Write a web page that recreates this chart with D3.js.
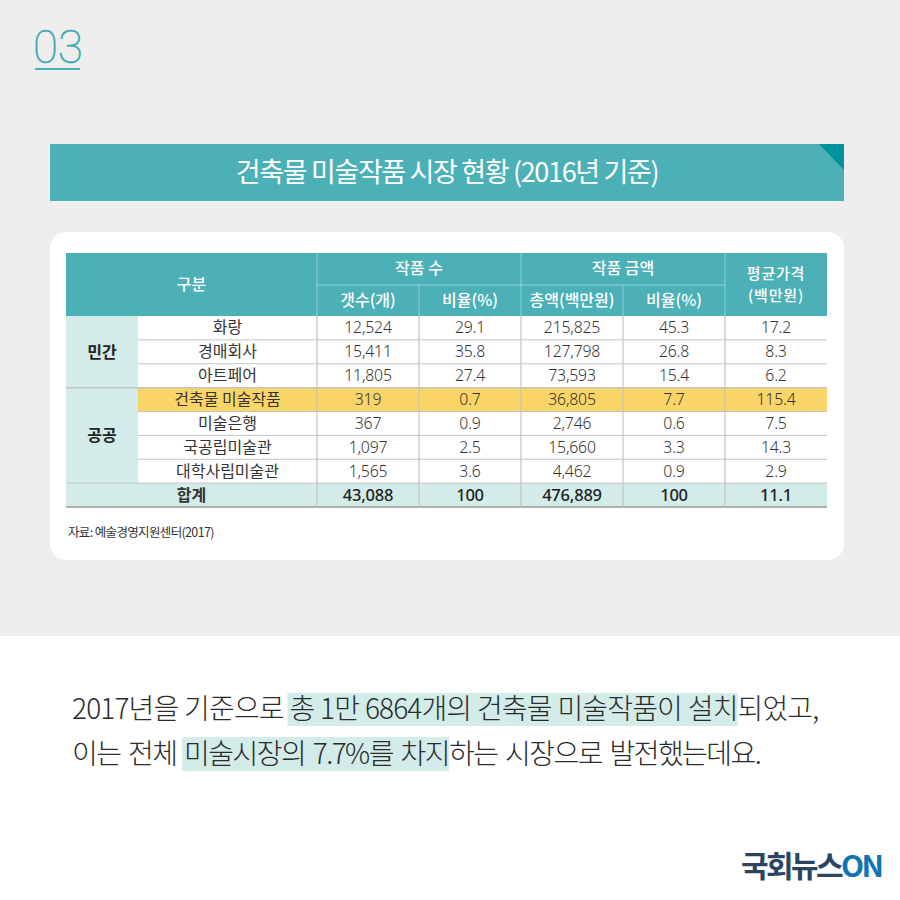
<!DOCTYPE html>
<html>
<head>
<meta charset="utf-8">
<script src="https://cdn.jsdelivr.net/npm/d3@7"></script>
<style>
html,body{margin:0;padding:0;background:#fff}
svg{display:block}
text{font-family:"Noto Sans CJK KR","Noto Sans",sans-serif}
</style>
</head>
<body>
<svg id="chart" width="900" height="900"></svg>
<script>
const title = "건축물 미술작품 시장 현황 (2016년 기준)";
const source = "자료: 예술경영지원센터(2017)";
const rowLabels = ["화랑","경매회사","아트페어","건축물 미술작품","미술은행","국공립미술관","대학사립미술관","합계"];
const columns = ["count","countShare","amount","amountShare","avgPrice"];
const subHeads = ["갯수(개)","비율(%)","총액(백만원)","비율(%)"];
const count = ["12,524","15,411","11,805","319","367","1,097","1,565","43,088"];
const countShare = ["29.1","35.8","27.4","0.7","0.9","2.5","3.6","100"];
const amount = ["215,825","127,798","73,593","36,805","2,746","15,660","4,462","476,889"];
const amountShare = ["45.3","26.8","15.4","7.7","0.6","3.3","0.9","100"];
const avgPrice = ["17.2","8.3","6.2","115.4","7.5","14.3","2.9","11.1"];
const series = [count,countShare,amount,amountShare,avgPrice];
const line1 = ["2017년을 기준으로 ","총 1만 6864개의 건축물 미술작품이 설치","되었고,"];
const line2 = ["이는 전체 ","미술시장의 7.7%를 차지","하는 시장으로 발전했는데요."];

const teal = "#4cb0b7", mint = "#d3ebe9", gold = "#f9d466", ink = "#333333";
const svg = d3.select("#chart");

// page background
svg.append("rect").attr("width",900).attr("height",636).attr("fill","#eeeeee");
svg.append("text").attr("x",33).attr("y",63).attr("font-size",45.5)
   .style("font-family","Roboto").attr("font-weight",100).attr("fill","#3fa9b3")
   .attr("stroke","#3fa9b3").attr("stroke-width",0.6).text("03");
svg.append("rect").attr("x",35).attr("y",68).attr("width",45).attr("height",2).attr("fill","#4cb0b7");

// title bar
svg.append("rect").attr("x",50).attr("y",144).attr("width",794).attr("height",57).attr("fill",teal);
svg.append("path").attr("d","M819,144H844V170Z").attr("fill","#00939b");
svg.append("text").attr("x",447).attr("y",182).attr("text-anchor","middle")
   .attr("font-size",27).attr("letter-spacing",-1.35).attr("fill","#fff").text(title);

// card
svg.append("rect").attr("x",50).attr("y",232).attr("width",794).attr("height",328).attr("rx",16).attr("fill","#fff");

// table scales
const x = d3.scaleBand().domain(columns).range([317,827]);
const y = d3.scaleBand().domain(rowLabels).range([316,507]);
const left = 66, labelX = 138, headTop = 253, headMid = 285;

// header
svg.append("rect").attr("x",left).attr("y",headTop).attr("width",827-left).attr("height",316-headTop).attr("fill",teal);

// row backgrounds
svg.selectAll(".row").data(rowLabels).join("rect")
   .attr("x",d => d==="합계" ? left : labelX)
   .attr("y",d => y(d)).attr("height",y.bandwidth())
   .attr("width",d => 827-(d==="합계" ? left : labelX))
   .attr("fill",d => d==="합계" ? mint : d==="건축물 미술작품" ? gold : "#fff");

// group cells
const groups = [["민간",rowLabels[0],rowLabels[2]],["공공",rowLabels[3],rowLabels[6]]];
svg.selectAll(".grp").data(groups).join("rect")
   .attr("x",left).attr("width",labelX-left)
   .attr("y",d => y(d[1])).attr("height",d => y(d[2])+y.bandwidth()-y(d[1]))
   .attr("fill",mint);
svg.selectAll(".grpText").data(groups).join("text")
   .attr("x",(left+labelX)/2)
   .attr("y",d => (y(d[1])+y(d[2])+y.bandwidth())/2+6)
   .attr("text-anchor","middle").attr("font-size",16).attr("font-weight",700).attr("fill","#222")
   .text(d => d[0]);

// row rules
svg.selectAll(".rule").data(rowLabels.slice(1)).join("line")
   .attr("x1",d => (d==="건축물 미술작품"||d==="합계") ? left : labelX).attr("x2",827)
   .attr("y1",d => y(d)).attr("y2",d => y(d))
   .attr("stroke","#c4c4c4").attr("stroke-width",d => d==="건축물 미술작품" ? 1.5 : 1);
svg.append("line").attr("x1",left).attr("x2",827).attr("y1",507).attr("y2",507)
   .attr("stroke","#9a9a9a").attr("stroke-width",1.5);

// column rules
svg.selectAll(".vbody").data(columns).join("line")
   .attr("x1",d => x(d)).attr("x2",d => x(d)).attr("y1",316).attr("y2",507)
   .attr("stroke","#c4c4c4").attr("stroke-width",1.2);
svg.selectAll(".vhead").data(columns).join("line")
   .attr("x1",d => x(d)).attr("x2",d => x(d))
   .attr("y1",(d,i) => i%2 ? headMid : headTop).attr("y2",316)
   .attr("stroke","#8fd3d4").attr("stroke-width",1);
svg.append("line").attr("x1",x("count")).attr("x2",x("avgPrice")).attr("y1",headMid).attr("y2",headMid)
   .attr("stroke","#8fd3d4").attr("stroke-width",1);

// header text
function head(tx,ty,s,size,spacing){
  svg.append("text").attr("x",tx).attr("y",ty).attr("text-anchor","middle")
     .attr("font-size",size||16).attr("letter-spacing",spacing||0)
     .attr("font-weight",500).attr("fill","#fff").text(s);
}
head((left+x("count"))/2,290,"구분");
head(x("countShare"),274,"작품 수");
head(x("amountShare"),274,"작품 금액");
head(x("avgPrice")+x.bandwidth()/2,279,"평균가격",15,0.8);
head(x("avgPrice")+x.bandwidth()/2,301,"(백만원)",15,0.8);
svg.selectAll(".sub").data(subHeads).join("text")
   .attr("x",(d,i) => x(columns[i])+x.bandwidth()/2).attr("y",306)
   .attr("text-anchor","middle").attr("font-size",16).attr("font-weight",500).attr("fill","#fff")
   .text(d => d);

// body text
const isTotal = d => d==="합계";
svg.selectAll(".label").data(rowLabels).join("text")
   .attr("x",d => isTotal(d) ? (left+x("count"))/2 : (labelX+x("count"))/2)
   .attr("y",d => y(d)+y.bandwidth()/2+5.5)
   .attr("text-anchor","middle").attr("font-size",16)
   .attr("font-weight",d => isTotal(d) ? 700 : 400).attr("fill",ink).text(d => d);
columns.forEach((c,ci) => {
  svg.selectAll(".v"+c).data(series[ci]).join("text")
     .attr("x",x(c)+x.bandwidth()/2)
     .attr("y",(d,i) => y(rowLabels[i])+y.bandwidth()/2+5.5)
     .attr("text-anchor","middle").attr("letter-spacing",-0.2)
     .attr("font-size",(d,i) => i===7 ? 16.5 : 15.8)
     .attr("font-weight",(d,i) => i===7 ? 500 : 300).attr("fill",(d,i) => i===7 ? "#222" : ink)
     .style("font-family","'Noto Sans','Noto Sans CJK KR',sans-serif")
     .text(d => d);
});

svg.append("text").attr("x",68).attr("y",537).attr("font-size",12.5).attr("letter-spacing",-0.65)
   .attr("fill","#333").text(source);

// caption with highlighted runs
function caption(parts,tx,baseline,top,h,spacing,wordGap){
  const t = svg.append("text").attr("x",tx).attr("y",baseline).attr("font-size",28)
     .attr("font-weight",300).attr("letter-spacing",spacing).attr("word-spacing",wordGap)
     .attr("fill","#2b2b2b").text(parts.join(""));
  const node = t.node();
  const startX = tx + node.getSubStringLength(0,parts[0].length);
  const w = node.getSubStringLength(parts[0].length,parts[1].length);
  svg.insert("rect","text:last-of-type").attr("x",startX-2).attr("y",top).attr("width",w+2).attr("height",h).attr("fill",mint);
  node.parentNode.appendChild(node);
}
svg.append("rect").attr("y",636).attr("width",900).attr("height",264).attr("fill","#fff").lower();
caption(line1,72,719,693,33,-0.85,0.4);
caption(line2,72,764,737,34,-1.55,3);

// logo
const logo = svg.append("text").attr("x",741).attr("y",877).attr("font-size",30).attr("font-weight",700).attr("letter-spacing",-2.6);
logo.append("tspan").attr("fill","#2a4561").text("국회뉴스");
logo.append("tspan").attr("fill","#0f75b5").text("ON");
</script>
</body>
</html>
